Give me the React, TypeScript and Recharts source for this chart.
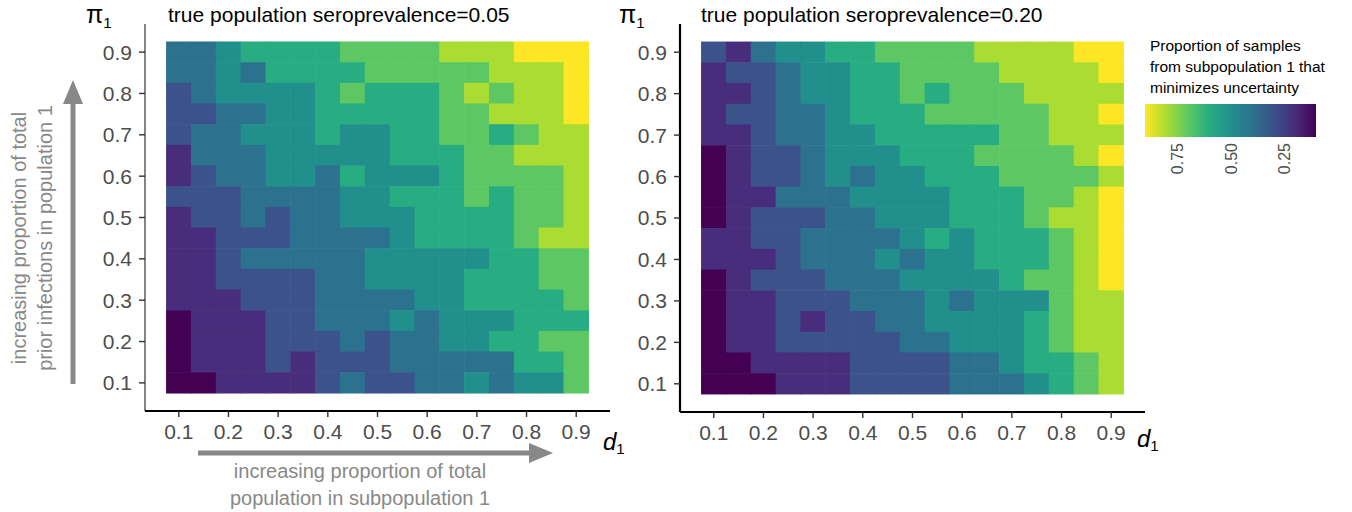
import { Scatter, ScatterChart, XAxis, YAxis } from 'recharts';
import type { FC } from 'react';

// d1 (columns, left to right) and pi1 (rows, top to bottom)
const dValues = [0.1, 0.15, 0.2, 0.25, 0.3, 0.35, 0.4, 0.45, 0.5, 0.55, 0.6, 0.65, 0.7, 0.75, 0.8, 0.85, 0.9];
const piValues = [0.9, 0.85, 0.8, 0.75, 0.7, 0.65, 0.6, 0.55, 0.5, 0.45, 0.4, 0.35, 0.3, 0.25, 0.2, 0.15, 0.1];
const axisTicks = [0.1, 0.2, 0.3, 0.4, 0.5, 0.6, 0.7, 0.8, 0.9];
const legendTicks = [0.75, 0.5, 0.25];

// optimal proportion of samples from subpopulation 1, seroprevalence 0.05
const optimal005 = [
  [0.4, 0.4, 0.5, 0.6, 0.6, 0.6, 0.6, 0.7, 0.7, 0.7, 0.7, 0.8, 0.8, 0.8, 0.9, 0.9, 0.9],
  [0.4, 0.4, 0.5, 0.4, 0.6, 0.6, 0.6, 0.6, 0.7, 0.7, 0.7, 0.7, 0.7, 0.8, 0.8, 0.8, 0.9],
  [0.3, 0.4, 0.5, 0.5, 0.5, 0.5, 0.6, 0.7, 0.6, 0.6, 0.6, 0.7, 0.8, 0.7, 0.8, 0.8, 0.9],
  [0.3, 0.3, 0.4, 0.4, 0.5, 0.5, 0.6, 0.6, 0.6, 0.6, 0.6, 0.7, 0.7, 0.8, 0.8, 0.8, 0.9],
  [0.3, 0.4, 0.4, 0.5, 0.5, 0.5, 0.6, 0.5, 0.5, 0.6, 0.6, 0.7, 0.7, 0.6, 0.7, 0.8, 0.8],
  [0.2, 0.4, 0.4, 0.4, 0.5, 0.5, 0.5, 0.5, 0.5, 0.6, 0.6, 0.6, 0.7, 0.7, 0.8, 0.8, 0.8],
  [0.2, 0.3, 0.4, 0.4, 0.5, 0.5, 0.4, 0.6, 0.5, 0.5, 0.5, 0.6, 0.7, 0.7, 0.7, 0.7, 0.8],
  [0.3, 0.3, 0.3, 0.4, 0.4, 0.4, 0.4, 0.5, 0.5, 0.6, 0.6, 0.6, 0.7, 0.6, 0.7, 0.7, 0.8],
  [0.2, 0.3, 0.3, 0.4, 0.3, 0.4, 0.4, 0.5, 0.5, 0.5, 0.6, 0.6, 0.6, 0.6, 0.7, 0.7, 0.8],
  [0.2, 0.2, 0.3, 0.3, 0.3, 0.4, 0.4, 0.4, 0.4, 0.5, 0.6, 0.6, 0.6, 0.6, 0.7, 0.8, 0.8],
  [0.2, 0.2, 0.3, 0.4, 0.4, 0.4, 0.4, 0.4, 0.5, 0.5, 0.5, 0.5, 0.5, 0.6, 0.6, 0.7, 0.7],
  [0.2, 0.2, 0.3, 0.3, 0.3, 0.3, 0.4, 0.4, 0.5, 0.5, 0.5, 0.5, 0.6, 0.6, 0.6, 0.7, 0.7],
  [0.2, 0.2, 0.2, 0.3, 0.3, 0.3, 0.4, 0.4, 0.4, 0.4, 0.5, 0.5, 0.6, 0.6, 0.6, 0.6, 0.7],
  [0.1, 0.2, 0.2, 0.2, 0.3, 0.3, 0.4, 0.4, 0.4, 0.5, 0.4, 0.5, 0.5, 0.5, 0.6, 0.6, 0.6],
  [0.1, 0.2, 0.2, 0.2, 0.3, 0.3, 0.3, 0.4, 0.3, 0.4, 0.4, 0.5, 0.5, 0.6, 0.6, 0.7, 0.7],
  [0.1, 0.2, 0.2, 0.2, 0.3, 0.2, 0.3, 0.3, 0.3, 0.4, 0.4, 0.4, 0.4, 0.4, 0.6, 0.6, 0.7],
  [0.1, 0.1, 0.2, 0.2, 0.2, 0.2, 0.3, 0.4, 0.3, 0.3, 0.4, 0.4, 0.5, 0.4, 0.5, 0.5, 0.7],
];

// same, seroprevalence 0.20
const optimal020 = [
  [0.3, 0.2, 0.4, 0.5, 0.5, 0.6, 0.6, 0.7, 0.7, 0.7, 0.7, 0.8, 0.8, 0.8, 0.8, 0.9, 0.9],
  [0.2, 0.3, 0.3, 0.4, 0.5, 0.5, 0.6, 0.6, 0.7, 0.7, 0.7, 0.7, 0.8, 0.8, 0.8, 0.8, 0.9],
  [0.2, 0.2, 0.3, 0.4, 0.5, 0.5, 0.6, 0.6, 0.7, 0.6, 0.7, 0.7, 0.7, 0.8, 0.8, 0.8, 0.8],
  [0.2, 0.3, 0.3, 0.4, 0.4, 0.5, 0.6, 0.6, 0.6, 0.7, 0.7, 0.7, 0.7, 0.7, 0.8, 0.8, 0.9],
  [0.2, 0.2, 0.3, 0.4, 0.4, 0.5, 0.5, 0.6, 0.6, 0.6, 0.6, 0.6, 0.7, 0.7, 0.8, 0.8, 0.8],
  [0.1, 0.2, 0.3, 0.3, 0.4, 0.5, 0.5, 0.5, 0.6, 0.6, 0.6, 0.7, 0.7, 0.7, 0.7, 0.8, 0.9],
  [0.1, 0.2, 0.3, 0.3, 0.4, 0.5, 0.4, 0.5, 0.5, 0.6, 0.6, 0.6, 0.7, 0.7, 0.7, 0.7, 0.8],
  [0.1, 0.2, 0.2, 0.4, 0.4, 0.4, 0.5, 0.5, 0.5, 0.5, 0.6, 0.6, 0.6, 0.7, 0.7, 0.8, 0.9],
  [0.1, 0.2, 0.3, 0.3, 0.3, 0.4, 0.4, 0.5, 0.5, 0.5, 0.6, 0.6, 0.6, 0.7, 0.8, 0.8, 0.9],
  [0.2, 0.2, 0.3, 0.3, 0.4, 0.4, 0.4, 0.4, 0.5, 0.6, 0.5, 0.6, 0.6, 0.6, 0.7, 0.8, 0.9],
  [0.2, 0.2, 0.2, 0.3, 0.4, 0.4, 0.4, 0.5, 0.4, 0.5, 0.5, 0.6, 0.6, 0.6, 0.7, 0.8, 0.9],
  [0.1, 0.2, 0.3, 0.3, 0.3, 0.4, 0.4, 0.4, 0.5, 0.5, 0.5, 0.5, 0.6, 0.7, 0.7, 0.8, 0.9],
  [0.1, 0.2, 0.2, 0.3, 0.3, 0.3, 0.4, 0.4, 0.4, 0.5, 0.4, 0.5, 0.5, 0.5, 0.7, 0.8, 0.8],
  [0.1, 0.2, 0.2, 0.3, 0.2, 0.3, 0.3, 0.4, 0.4, 0.5, 0.5, 0.5, 0.5, 0.6, 0.7, 0.8, 0.8],
  [0.1, 0.2, 0.2, 0.3, 0.3, 0.3, 0.3, 0.3, 0.4, 0.4, 0.5, 0.5, 0.5, 0.6, 0.7, 0.8, 0.8],
  [0.1, 0.1, 0.2, 0.2, 0.2, 0.2, 0.3, 0.3, 0.3, 0.3, 0.4, 0.4, 0.5, 0.6, 0.6, 0.7, 0.8],
  [0.1, 0.1, 0.1, 0.2, 0.2, 0.2, 0.3, 0.3, 0.3, 0.3, 0.4, 0.4, 0.4, 0.5, 0.6, 0.7, 0.8],
];

// viridis(9), low -> high
const viridis = ['#440154', '#472D7B', '#3B528B', '#2C728E', '#21908C', '#27AD81', '#5DC863', '#AADC32', '#FDE725'];

const FONT = '"Liberation Sans", Arial, Helvetica, sans-serif';
const DOMAIN: [number, number] = [0.032, 0.968];
const PLOT_W = 465;
const PLOT_H = 387;
const CELL_W = (PLOT_W * 0.05) / (DOMAIN[1] - DOMAIN[0]);
const CELL_H = (PLOT_H * 0.05) / (DOMAIN[1] - DOMAIN[0]);

const colorFor = (v: number) => viridis[Math.min(8, Math.max(0, Math.round(v * 10) - 1))];

const toTiles = (grid: number[][]) =>
  grid.flatMap((row, i) => row.map((v, j) => ({ d: dValues[j], pi: piValues[i], v })));

const Tile = (props: any) => {
  const { cx, cy, payload } = props;
  return (
    <rect
      x={cx - CELL_W / 2 - 0.3}
      y={cy - CELL_H / 2 - 0.3}
      width={CELL_W + 0.6}
      height={CELL_H + 0.6}
      fill={colorFor(payload.v)}
    />
  );
};

const tickStyle = { fill: '#4d4d4d', fontSize: 21, fontFamily: FONT };

const Panel: FC<{
  grid: number[][];
  left: number;
  width: number;
  margin: { top: number; right: number; bottom: number; left: number };
  yLine: { stroke: string; strokeWidth: number };
}> = ({ grid, left, width, margin, yLine }) => (
  <div style={{ position: 'absolute', left, top: 0 }}>
    <ScatterChart width={width} height={512} margin={margin}>
      <XAxis
        type="number"
        dataKey="d"
        domain={DOMAIN}
        ticks={axisTicks}
        allowDataOverflow
        tickFormatter={(v: number) => v.toFixed(1)}
        tick={tickStyle}
        axisLine={{ stroke: '#000', strokeWidth: 2.2 }}
        tickLine={{ stroke: '#333', strokeWidth: 1.4 }}
        tickSize={6}
        tickMargin={7}
        height={30}
      />
      <YAxis
        type="number"
        dataKey="pi"
        domain={DOMAIN}
        ticks={axisTicks}
        allowDataOverflow
        tickFormatter={(v: number) => v.toFixed(1)}
        tick={tickStyle}
        axisLine={yLine}
        tickLine={{ stroke: '#333', strokeWidth: 1.4 }}
        tickSize={6}
        tickMargin={7}
        width={60}
      />
      <Scatter data={toTiles(grid)} shape={Tile} isAnimationActive={false} />
    </ScatterChart>
  </div>
);

const LEG_X = 1145;
const LEG_W = 171;
const legendX = (t: number) => LEG_X + ((0.9 - t) / 0.8) * LEG_W;

const Overlay: FC = () => (
  <svg
    width={1352}
    height={512}
    style={{ position: 'absolute', left: 0, top: 0, pointerEvents: 'none' }}
    fontFamily={FONT}
  >
    <defs>
      <linearGradient id="viridisRev" x1="0" x2="1" y1="0" y2="0">
        {viridis
          .slice()
          .reverse()
          .map((c, i) => (
            <stop key={c} offset={i / 8} stopColor={c} />
          ))}
      </linearGradient>
    </defs>

    <text x={168} y={22} fontSize={21} fill="#000">true population seroprevalence=0.05</text>
    <text x={701} y={22} fontSize={21} fill="#000">true population seroprevalence=0.20</text>

    <text x={86} y={23} fontSize={25} fill="#000">
      π<tspan fontSize={15} dy={5}>1</tspan>
    </text>
    <text x={619} y={23} fontSize={25} fill="#000">
      π<tspan fontSize={15} dy={5}>1</tspan>
    </text>

    <text x={603} y={450} fontSize={24} fill="#000">
      <tspan fontStyle="italic">d</tspan>
      <tspan fontSize={15} dy={4}>1</tspan>
    </text>
    <text x={1137} y={447} fontSize={24} fill="#000">
      <tspan fontStyle="italic">d</tspan>
      <tspan fontSize={15} dy={4}>1</tspan>
    </text>

    {/* vertical annotation */}
    <line x1={73} y1={384} x2={73} y2={100} stroke="#888" strokeWidth={5} />
    <polygon points="73,80 63,104 83,104" fill="#888" />
    <text x={26} y={238} fontSize={20} fill="#888" textAnchor="middle" transform="rotate(-90 26 238)">
      increasing proportion of total
    </text>
    <text x={52} y={238} fontSize={20} fill="#888" textAnchor="middle" transform="rotate(-90 52 238)">
      prior infections in population 1
    </text>

    {/* horizontal annotation */}
    <line x1={198} y1={453} x2={532} y2={453} stroke="#888" strokeWidth={5} />
    <polygon points="553,453 529,443 529,463" fill="#888" />
    <text x={360} y={478} fontSize={20} fill="#888" textAnchor="middle">
      increasing proportion of total
    </text>
    <text x={360} y={505} fontSize={20} fill="#888" textAnchor="middle">
      population in subpopulation 1
    </text>

    {/* colour legend */}
    <text x={1150} y={51} fontSize={15.5} fill="#000">Proportion of samples</text>
    <text x={1150} y={72} fontSize={15.5} fill="#000">from subpopulation 1 that</text>
    <text x={1150} y={93} fontSize={15.5} fill="#000">minimizes uncertainty</text>
    <rect x={LEG_X} y={104} width={LEG_W} height={33} fill="url(#viridisRev)" />
    {legendTicks.map((t) => (
      <text
        key={t}
        x={legendX(t) + 6}
        y={143}
        fontSize={16}
        fill="#4d4d4d"
        textAnchor="end"
        transform={`rotate(-90 ${legendX(t) + 6} 143)`}
      >
        {t.toFixed(2)}
      </text>
    ))}
  </svg>
);

export default function App() {
  return (
    <div style={{ position: 'absolute', left: 0, top: 0, width: 1352, height: 512, background: '#fff' }}>
      <Panel
        grid={optimal005}
        left={0}
        width={620}
        margin={{ top: 24, right: 10, bottom: 71, left: 85 }}
        yLine={{ stroke: '#333', strokeWidth: 1.2 }}
      />
      <Panel
        grid={optimal020}
        left={600}
        width={560}
        margin={{ top: 24, right: 15, bottom: 70, left: 20 }}
        yLine={{ stroke: '#000', strokeWidth: 2.2 }}
      />
      <Overlay />
    </div>
  );
}
